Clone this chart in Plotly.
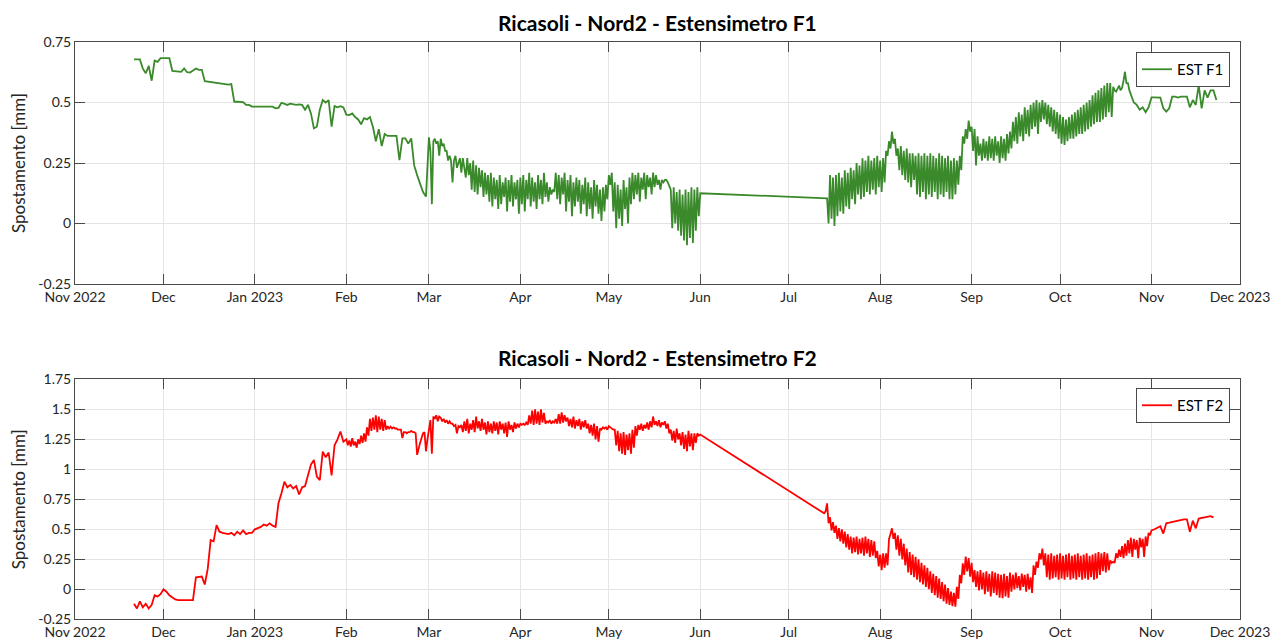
import pandas as pd
import plotly.graph_objects as go

# ---------------- DATA ----------------
# Each series is stored as sampling segments: start timestamp, sampling step (hours), values.

# EST F1 -- daily readings 2022-11-21 .. 2023-02-28
f1_winter_start = "2022-11-21"
f1_winter_step_h = 24
f1_winter = [
    0.678, 0.678, 0.678, 0.640, 0.621, 0.651, 0.590, 0.673, 0.668, 0.683,
    0.683, 0.683, 0.683, 0.631, 0.629, 0.627, 0.627, 0.641, 0.625, 0.624,
    0.632, 0.640, 0.635, 0.635, 0.588, 0.586, 0.585, 0.585, 0.580, 0.578,
    0.576, 0.576, 0.574, 0.576, 0.503, 0.503, 0.503, 0.502, 0.490, 0.490, 0.483,
    0.483, 0.483, 0.483, 0.483, 0.483, 0.483, 0.483, 0.476, 0.478, 0.499,
    0.495, 0.490, 0.495, 0.492, 0.490, 0.492, 0.490, 0.470, 0.490, 0.455,
    0.393, 0.400, 0.470, 0.510, 0.500, 0.510, 0.400, 0.485, 0.480, 0.485, 0.480,
    0.450, 0.448, 0.455, 0.440, 0.430, 0.410, 0.435, 0.430, 0.440, 0.400,
    0.340, 0.390, 0.320, 0.370, 0.362, 0.362, 0.362, 0.362, 0.262, 0.352,
    0.352, 0.330, 0.352, 0.240, 0.200, 0.160, 0.130, 0.111,
]

# EST F1 -- 12-hourly readings 2023-03-01 .. 2023-06-01
f1_spring_start = "2023-03-01"
f1_spring_step_h = 12
f1_spring = [
    0.356, 0.300, 0.080, 0.340, 0.350, 0.330, 0.340, 0.280, 0.350, 0.320,
    0.330, 0.300, 0.300, 0.260, 0.280, 0.260, 0.170, 0.260, 0.280, 0.230,
    0.250, 0.270, 0.210, 0.270, 0.230, 0.190, 0.270, 0.200, 0.250, 0.140,
    0.260, 0.130, 0.240, 0.120, 0.230, 0.150, 0.220, 0.110, 0.210, 0.120,
    0.200, 0.090, 0.210, 0.070, 0.190, 0.100, 0.180, 0.060, 0.200, 0.080,
    0.170, 0.110, 0.190, 0.050, 0.180, 0.090, 0.200, 0.070, 0.170, 0.100,
    0.180, 0.040,
    0.190, 0.080, 0.200, 0.050, 0.180, 0.100, 0.210, 0.070, 0.190, 0.090,
    0.170, 0.060, 0.200, 0.100, 0.180, 0.080, 0.210, 0.110, 0.170, 0.090,
    0.150, 0.120, 0.140, 0.130, 0.210, 0.100, 0.200, 0.080, 0.190, 0.120,
    0.210, 0.050, 0.180, 0.090, 0.200, 0.030, 0.170, 0.070, 0.190, 0.090,
    0.180, 0.040, 0.160, 0.080, 0.190, 0.030, 0.170, 0.060, 0.150, 0.020,
    0.180, 0.070, 0.160, 0.040, 0.140, 0.010, 0.150, 0.050, 0.160, 0.100,
    0.200, 0.160, 0.210, 0.050, 0.170, -0.020, 0.160, 0.020, 0.140, -0.010,
    0.180, 0.060, 0.150, 0.000, 0.190, 0.080, 0.210, 0.100, 0.200, 0.120,
    0.210, 0.090, 0.190, 0.140, 0.210, 0.100, 0.200, 0.150, 0.190, 0.120,
    0.210, 0.150, 0.200, 0.160, 0.180, 0.140, 0.180, 0.170, 0.180, 0.180,
    0.170, 0.150, 0.140, -0.020, 0.150, 0.000, 0.130, -0.030, 0.140, -0.050,
    0.120, -0.070, 0.140, -0.090, 0.130, -0.060, 0.150, -0.080, 0.140, -0.030,
    0.150, 0.030,
    0.125,
]

# EST F1 -- 12-hourly readings 2023-07-14 .. 2023-10-25
f1_summer_start = "2023-07-14"
f1_summer_step_h = 12
f1_summer = [
    0.104, 0.000, 0.200, 0.020, 0.190, -0.010, 0.200, 0.030, 0.210, 0.050,
    0.190, 0.040, 0.220, 0.070, 0.210, 0.060, 0.230, 0.100, 0.220, 0.080,
    0.250, 0.120, 0.240, 0.100, 0.270, 0.110, 0.260, 0.130, 0.280, 0.120,
    0.260, 0.140, 0.270, 0.120, 0.280, 0.150,
    0.260, 0.130, 0.270, 0.170, 0.300, 0.280, 0.340, 0.310, 0.380, 0.330,
    0.350, 0.280, 0.310, 0.220, 0.320, 0.200, 0.300, 0.180, 0.310, 0.170,
    0.290, 0.150, 0.290, 0.180, 0.280, 0.120, 0.290, 0.110, 0.280, 0.130,
    0.290, 0.100, 0.280, 0.120, 0.290, 0.110, 0.280, 0.130, 0.270, 0.100,
    0.290, 0.120, 0.280, 0.110, 0.270, 0.130, 0.280, 0.100, 0.260, 0.100,
    0.270, 0.120, 0.260, 0.160, 0.280, 0.220, 0.360, 0.330, 0.390, 0.350,
    0.425, 0.380,
    0.400, 0.300, 0.390, 0.240, 0.360, 0.280, 0.330, 0.260, 0.350, 0.270,
    0.340, 0.260, 0.360, 0.270, 0.350, 0.260, 0.360, 0.280, 0.340, 0.250,
    0.360, 0.270, 0.350, 0.260, 0.370, 0.290, 0.380, 0.310, 0.420, 0.340,
    0.440, 0.330, 0.460, 0.360, 0.450, 0.340, 0.480, 0.370, 0.470, 0.360,
    0.490, 0.390, 0.500, 0.400, 0.510, 0.370, 0.500, 0.420, 0.510, 0.430,
    0.500, 0.410, 0.490, 0.400, 0.480, 0.380, 0.470, 0.370, 0.460, 0.350,
    0.450, 0.330, 0.440, 0.325, 0.430, 0.340, 0.440, 0.350, 0.450, 0.350,
    0.460, 0.360, 0.470, 0.370, 0.480, 0.370, 0.490, 0.380, 0.500, 0.390,
    0.510, 0.400, 0.530, 0.410, 0.540, 0.420, 0.550, 0.420, 0.560, 0.430,
    0.570, 0.440, 0.580, 0.460, 0.580, 0.440, 0.565, 0.550, 0.545, 0.560,
    0.570, 0.550, 0.560, 0.590, 0.627, 0.580, 0.580, 0.550, 0.530, 0.510,
]

# EST F1 -- daily readings 2023-10-26 .. 2023-11-23
f1_autumn_start = "2023-10-26"
f1_autumn_step_h = 24
f1_autumn = [
    0.500, 0.490, 0.470, 0.480, 0.460, 0.480,
    0.521, 0.521, 0.521, 0.520, 0.476, 0.462, 0.476, 0.524, 0.524, 0.520,
    0.524, 0.524, 0.524, 0.480, 0.510, 0.490, 0.572, 0.476, 0.550, 0.520,
    0.550, 0.550, 0.510,
]

# EST F2 -- daily readings 2022-11-21 .. 2023-01-31
f2_winter_start = "2022-11-21"
f2_winter_step_h = 24
f2_winter = [
    -0.120, -0.160, -0.100, -0.150, -0.120, -0.160, -0.130, -0.050, -0.060, -0.040,
    0.000, -0.020, -0.050, -0.070, -0.085, -0.090, -0.090, -0.090, -0.085, -0.090,
    -0.090, 0.100, 0.106, 0.106, 0.040, 0.170, 0.410, 0.400, 0.535, 0.480,
    0.470, 0.466, 0.460, 0.470, 0.450, 0.480, 0.460, 0.490, 0.460, 0.470, 0.470,
    0.500, 0.510, 0.520, 0.540, 0.530, 0.550, 0.530, 0.520, 0.720, 0.800,
    0.897, 0.850, 0.870, 0.840, 0.860, 0.790, 0.850, 0.860, 0.950, 1.040,
    1.078, 0.940, 0.910, 1.148, 1.100, 1.140, 0.950, 1.200, 1.250, 1.314, 1.230,
]

# EST F2 -- 12-hourly readings 2023-02-01 .. 2023-06-01
f2_spring_start = "2023-02-01"
f2_spring_step_h = 12
f2_spring = [
    1.250, 1.200, 1.240, 1.190, 1.260, 1.200, 1.230, 1.180, 1.250, 1.210,
    1.280, 1.220, 1.300, 1.230, 1.350, 1.280, 1.420, 1.320, 1.430, 1.330,
    1.450, 1.310, 1.440, 1.330, 1.420, 1.320, 1.410, 1.330, 1.360, 1.340,
    1.355, 1.340, 1.350, 1.340, 1.340, 1.330, 1.330, 1.330, 1.260, 1.310,
    1.310, 1.300, 1.310, 1.310, 1.320, 1.310, 1.310, 1.300, 1.120, 1.180,
    1.220, 1.260, 1.300, 1.310, 1.150, 1.250,
    1.330, 1.410, 1.130, 1.440, 1.420, 1.450, 1.400, 1.440, 1.430, 1.400,
    1.420, 1.390, 1.410, 1.380, 1.400, 1.380, 1.380, 1.360, 1.370, 1.300,
    1.360, 1.350, 1.370, 1.310, 1.400, 1.320, 1.420, 1.300, 1.380, 1.330,
    1.410, 1.310, 1.440, 1.340, 1.400, 1.320, 1.420, 1.330, 1.390, 1.290,
    1.400, 1.310, 1.380, 1.300, 1.400, 1.320, 1.390, 1.290, 1.400, 1.330,
    1.380, 1.300, 1.390, 1.270, 1.400, 1.330, 1.370, 1.310, 1.390, 1.340,
    1.380, 1.350,
    1.380, 1.370, 1.380, 1.370, 1.390, 1.370, 1.450, 1.380, 1.490, 1.370,
    1.500, 1.380, 1.480, 1.370, 1.500, 1.390, 1.470, 1.380, 1.400, 1.390,
    1.410, 1.380, 1.400, 1.390, 1.420, 1.380, 1.460, 1.380, 1.475, 1.390,
    1.450, 1.400, 1.430, 1.360, 1.420, 1.350, 1.440, 1.340, 1.410, 1.360,
    1.420, 1.330, 1.400, 1.350, 1.410, 1.340, 1.380, 1.300, 1.370, 1.280,
    1.380, 1.250, 1.360, 1.230, 1.340, 1.330, 1.350, 1.340, 1.350, 1.330,
    1.360, 1.350, 1.340, 1.330, 1.330, 1.200, 1.320, 1.150, 1.300, 1.130,
    1.310, 1.120, 1.290, 1.160, 1.300, 1.130, 1.330, 1.180, 1.360, 1.280,
    1.370, 1.330, 1.380, 1.320, 1.370, 1.340, 1.390, 1.330, 1.400, 1.350,
    1.440, 1.370, 1.400, 1.360, 1.410, 1.350, 1.390, 1.370, 1.400, 1.340,
    1.380, 1.300, 1.330, 1.240, 1.320, 1.220, 1.340, 1.250, 1.300, 1.200,
    1.310, 1.170, 1.290, 1.150, 1.320, 1.190, 1.300, 1.160, 1.300, 1.220,
    1.300, 1.280,
    1.290,
]

# EST F2 -- 12-hourly readings 2023-07-13 .. 2023-10-31
f2_summer_start = "2023-07-13"
f2_summer_step_h = 12
f2_summer = [
    0.633, 0.650, 0.716, 0.550, 0.600, 0.490, 0.560, 0.470, 0.530, 0.420,
    0.510, 0.400, 0.500, 0.380, 0.480, 0.350, 0.460, 0.330, 0.440, 0.300,
    0.430, 0.310, 0.440, 0.290, 0.420, 0.300, 0.430, 0.280, 0.440, 0.300,
    0.420, 0.270, 0.410, 0.280, 0.400, 0.260, 0.320, 0.190,
    0.290, 0.160, 0.300, 0.180, 0.300, 0.200, 0.420, 0.460, 0.508, 0.420,
    0.470, 0.330, 0.450, 0.280, 0.420, 0.250, 0.380, 0.200, 0.340, 0.140,
    0.310, 0.120, 0.290, 0.100, 0.270, 0.080, 0.250, 0.060, 0.220, 0.040,
    0.200, 0.020, 0.180, 0.000, 0.150, -0.030, 0.130, -0.050, 0.110, -0.070,
    0.090, -0.080, 0.060, -0.100, 0.040, -0.120, 0.010, -0.130, -0.020, -0.140,
    -0.030, -0.145, 0.020, -0.080, 0.120, 0.050, 0.216, 0.120, 0.272, 0.150,
    0.260, 0.105,
    0.220, 0.060, 0.160, 0.020, 0.150, -0.010, 0.160, 0.000, 0.140, -0.040,
    0.150, -0.020, 0.130, -0.060, 0.150, -0.030, 0.140, -0.050, 0.130, -0.070,
    0.120, -0.075, 0.130, -0.060, 0.110, -0.070, 0.140, -0.020, 0.120, 0.000,
    0.140, 0.010, 0.110, -0.010, 0.130, 0.020, 0.120, -0.020, 0.130, 0.000,
    0.100, -0.030, 0.200, 0.120, 0.230, 0.180, 0.300, 0.250, 0.340, 0.200,
    0.300, 0.100, 0.290, 0.080, 0.300, 0.090, 0.280, 0.100, 0.290, 0.080,
    0.300, 0.090, 0.280, 0.080, 0.290, 0.100, 0.300, 0.080, 0.280, 0.090,
    0.290, 0.080, 0.300, 0.100, 0.280, 0.080, 0.290, 0.090, 0.300, 0.080,
    0.280, 0.100, 0.290, 0.080, 0.300, 0.090, 0.310, 0.120, 0.300, 0.150,
    0.310, 0.140, 0.300, 0.160, 0.240, 0.220, 0.230, 0.220, 0.300, 0.260,
    0.330, 0.270, 0.360, 0.260, 0.380, 0.280, 0.410, 0.300, 0.430, 0.270,
    0.420, 0.330, 0.410, 0.260, 0.430, 0.350, 0.420, 0.270, 0.440, 0.360,
    0.470, 0.450,
]

# EST F2 -- daily readings 2023-11-01 .. 2023-11-22
f2_autumn_start = "2023-11-01"
f2_autumn_step_h = 24
f2_autumn = [
    0.490, 0.500, 0.515, 0.525, 0.464, 0.550, 0.555, 0.560, 0.570, 0.575,
    0.578, 0.583, 0.583, 0.480, 0.572, 0.508, 0.590, 0.595, 0.600, 0.605,
    0.610, 0.600,
]

# Axis ticks / labels
month_ticks = ["2022-11-01", "2022-12-01", "2023-01-01", "2023-02-01", "2023-03-01",
               "2023-04-01", "2023-05-01", "2023-06-01", "2023-07-01", "2023-08-01",
               "2023-09-01", "2023-10-01", "2023-11-01", "2023-12-01"]
month_labels = ["Nov 2022", "Dec", "Jan 2023", "Feb", "Mar", "Apr", "May", "Jun",
                "Jul", "Aug", "Sep", "Oct", "Nov", "Dec 2023"]
f1_yticks = [-0.25, 0, 0.25, 0.5, 0.75]
f1_ylabels = ["-0.25", "0", "0.25", "0.5", "0.75"]
f2_yticks = [-0.25, 0, 0.25, 0.5, 0.75, 1, 1.25, 1.5, 1.75]
f2_ylabels = ["-0.25", "0", "0.25", "0.5", "0.75", "1", "1.25", "1.5", "1.75"]

title_f1 = "Ricasoli - Nord2 - Estensimetro F1"
title_f2 = "Ricasoli - Nord2 - Estensimetro F2"
y_title = "Spostamento [mm]"


# ---------------- BUILD ----------------
def build(segments):
    xs, ys = [], []
    for start, step_h, vals in segments:
        xs.extend(pd.date_range(start, periods=len(vals), freq=f"{step_h}h"))
        ys.extend(vals)
    return xs, ys


f1_x, f1_y = build([(f1_winter_start, f1_winter_step_h, f1_winter),
                    (f1_spring_start, f1_spring_step_h, f1_spring),
                    (f1_summer_start, f1_summer_step_h, f1_summer),
                    (f1_autumn_start, f1_autumn_step_h, f1_autumn)])
f2_x, f2_y = build([(f2_winter_start, f2_winter_step_h, f2_winter),
                    (f2_spring_start, f2_spring_step_h, f2_spring),
                    (f2_summer_start, f2_summer_step_h, f2_summer),
                    (f2_autumn_start, f2_autumn_step_h, f2_autumn)])

FONT = "Lato"
AX = "#4a4a4a"
W, H = 1272, 642
ML, MR = 75, 32

fig = go.Figure()
fig.add_trace(go.Scatter(x=f1_x, y=f1_y, mode="lines", name="EST F1",
                         line=dict(color="#3a8a2c", width=1.8),
                         xaxis="x", yaxis="y", legend="legend"))
fig.add_trace(go.Scatter(x=f2_x, y=f2_y, mode="lines", name="EST F2",
                         line=dict(color="#ff0000", width=1.8),
                         xaxis="x2", yaxis="y2", legend="legend2"))

common = dict(showline=True, linecolor=AX, linewidth=1, mirror="ticks",
              ticks="inside", ticklen=10, tickcolor=AX, tickwidth=1,
              showgrid=True, gridcolor="#e4e4e4", gridwidth=1, zeroline=False,
              automargin=False,
              tickfont=dict(family=FONT, size=14, color="#262626"))

dom1 = [1 - 284 / H, 1 - 42 / H]
dom2 = [1 - 619.3 / H, 1 - 379.3 / H]

fig.update_layout(
    width=W, height=H, autosize=False,
    margin=dict(l=ML, r=MR, t=0, b=0, pad=0, autoexpand=False),
    paper_bgcolor="white", plot_bgcolor="white",
    showlegend=True,
    xaxis=dict(common, domain=[0, 1], anchor="y", type="date",
               range=[month_ticks[0], month_ticks[-1]],
               tickvals=month_ticks, ticktext=month_labels,
               ticklabeloverflow="allow"),
    yaxis=dict(common, domain=dom1, anchor="x", range=[-0.25, 0.75],
               tickvals=f1_yticks, ticktext=f1_ylabels),
    xaxis2=dict(common, domain=[0, 1], anchor="y2", type="date",
                range=[month_ticks[0], month_ticks[-1]],
                tickvals=month_ticks, ticktext=month_labels,
                ticklabeloverflow="allow"),
    yaxis2=dict(common, domain=dom2, anchor="x2", range=[-0.25, 1.75],
                tickvals=f2_yticks, ticktext=f2_ylabels),
    legend=dict(x=(1230 - ML) / (W - ML - MR), xanchor="right",
                y=1 - 52 / H, yanchor="top",
                bgcolor="white", bordercolor=AX, borderwidth=1,
                font=dict(family=FONT, size=15, color="#000000")),
    legend2=dict(x=(1230 - ML) / (W - ML - MR), xanchor="right",
                 y=1 - 388 / H, yanchor="top",
                 bgcolor="white", bordercolor=AX, borderwidth=1,
                 font=dict(family=FONT, size=15, color="#000000")),
)

ytitle_x = (18 - ML) / (W - ML - MR)
fig.add_annotation(text=f"<b>{title_f1}</b>", xref="paper", yref="paper",
                   x=0.5, y=1 - 22 / H, xanchor="center", yanchor="middle",
                   showarrow=False, font=dict(family=FONT, size=21, color="#000000"))
fig.add_annotation(text=f"<b>{title_f2}</b>", xref="paper", yref="paper",
                   x=0.5, y=1 - 358 / H, xanchor="center", yanchor="middle",
                   showarrow=False, font=dict(family=FONT, size=21, color="#000000"))
fig.add_annotation(text=y_title, xref="paper", yref="paper", textangle=-90,
                   x=ytitle_x, y=sum(dom1) / 2, xanchor="center", yanchor="middle",
                   showarrow=False, font=dict(family=FONT, size=17, color="#262626"))
fig.add_annotation(text=y_title, xref="paper", yref="paper", textangle=-90,
                   x=ytitle_x, y=sum(dom2) / 2, xanchor="center", yanchor="middle",
                   showarrow=False, font=dict(family=FONT, size=17, color="#262626"))

fig.write_html("out.html",
               config={"displayModeBar": False},
               post_script="document.body.style.margin='0px';"
                           "document.body.style.overflow='hidden';")
